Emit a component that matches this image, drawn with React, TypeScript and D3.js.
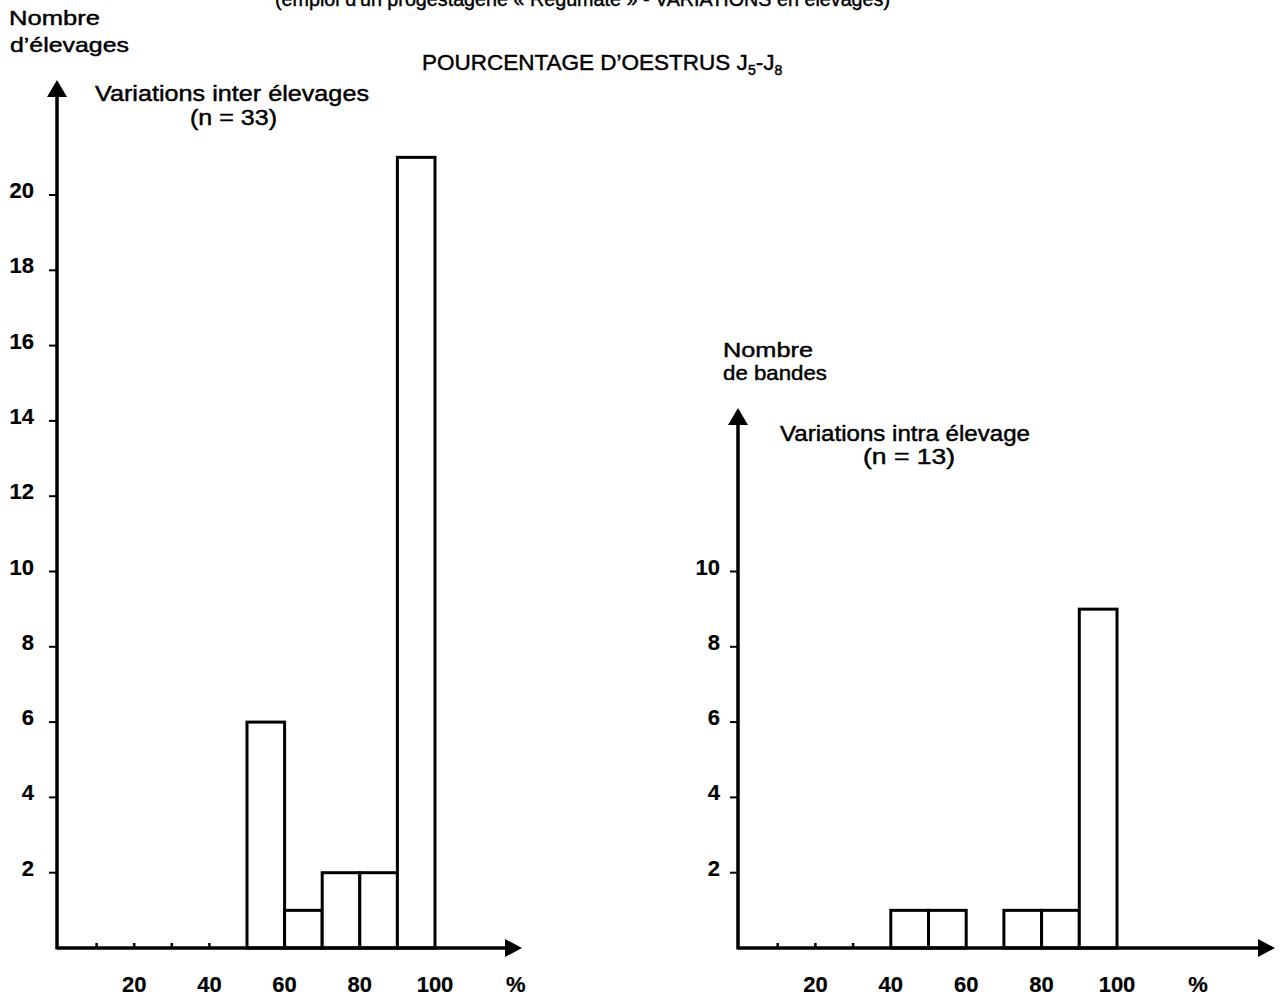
import React, { ReactElement, useEffect, useRef } from "react";
import * as d3 from "d3";

// histogram bins (lower bound, %) and counts
const interBins = [50, 60, 70, 80, 90];
const interCounts = [6, 1, 2, 2, 21];
const intraBins = [40, 50, 70, 80, 90];
const intraCounts = [1, 1, 1, 1, 9];

const xTickLabels = [20, 40, 60, 80, 100];
const interMinorTicks = [10, 20, 30, 40];
const intraMinorTicks = [10, 20, 30];
const interYTicks = [2, 4, 6, 8, 10, 12, 14, 16, 18, 20];
const intraYTicks = [2, 4, 6, 8, 10];

const FONT = "'Liberation Sans', Arial, Helvetica, sans-serif";

interface Panel {
  bins: number[];
  counts: number[];
  yTicks: number[];
  minorTicks: number[];
  x0: number;
  x100: number;
  xTip: number;
  yTip: number;
  labelRight: number;
}

function App(): ReactElement {
  const ref = useRef<SVGSVGElement>(null);

  useEffect(() => {
    const svg = d3.select(ref.current);
    svg.selectAll("*").remove();

    const y = d3.scaleLinear().domain([0, 20]).range([948, 195]);
    const base = y(0);

    const txt = (
      x: number,
      yy: number,
      s: string,
      size: number,
      len?: number,
      anchor = "start",
      weight = "normal"
    ) => {
      const t = svg
        .append("text")
        .attr("x", x)
        .attr("y", yy)
        .attr("font-family", FONT)
        .attr("font-size", size)
        .attr("font-weight", weight)
        .attr("text-anchor", anchor)
        .attr("fill", "#000")
        .attr("stroke", "#000")
        .attr("stroke-width", weight === "bold" ? 0.2 : 0.45)
        .text(s);
      if (len) t.attr("textLength", len).attr("lengthAdjust", "spacingAndGlyphs");
      return t;
    };

    const drawPanel = (p: Panel) => {
      const x = d3.scaleLinear().domain([0, 100]).range([p.x0, p.x100]);
      const w = x(10) - x(0);
      const axisX = p.x0 - 2;
      const g = svg.append("g");

      // bars
      g.selectAll(".bar")
        .data(p.bins.map((b, i) => ({ b, c: p.counts[i] })))
        .enter()
        .append("rect")
        .attr("x", (d) => x(d.b))
        .attr("y", (d) => y(d.c))
        .attr("width", w)
        .attr("height", (d) => base - y(d.c))
        .attr("fill", "#fff")
        .attr("stroke", "#000")
        .attr("stroke-width", 3);

      // axes
      g.append("line")
        .attr("x1", axisX).attr("x2", p.xTip - 14)
        .attr("y1", base).attr("y2", base)
        .attr("stroke", "#000").attr("stroke-width", 3.5);
      g.append("path")
        .attr("d", `M${p.xTip},${base} L${p.xTip - 17},${base - 9} L${p.xTip - 17},${base + 9} Z`)
        .attr("fill", "#000");
      g.append("line")
        .attr("x1", axisX).attr("x2", axisX)
        .attr("y1", base + 1.5).attr("y2", p.yTip + 14)
        .attr("stroke", "#000").attr("stroke-width", 3.5);
      g.append("path")
        .attr("d", `M${axisX},${p.yTip} L${axisX - 10},${p.yTip + 17} L${axisX + 10},${p.yTip + 17} Z`)
        .attr("fill", "#000");

      // y ticks
      p.yTicks.forEach((v) => {
        g.append("line")
          .attr("x1", axisX - 8).attr("x2", axisX)
          .attr("y1", y(v)).attr("y2", y(v))
          .attr("stroke", "#000").attr("stroke-width", 2);
        txt(p.labelRight, y(v) + 3, String(v), 22, undefined, "end", "bold");
      });

      // small x ticks
      p.minorTicks.forEach((v) => {
        g.append("line")
          .attr("x1", x(v)).attr("x2", x(v))
          .attr("y1", base).attr("y2", base - 5)
          .attr("stroke", "#000").attr("stroke-width", 2.5);
      });

      xTickLabels.forEach((v) => {
        txt(x(v), 992, String(v), 22, undefined, "middle", "bold");
      });
      txt(x(121.5), 992, "%", 22, undefined, "middle", "bold");
    };

    drawPanel({
      bins: interBins,
      counts: interCounts,
      yTicks: interYTicks,
      minorTicks: interMinorTicks,
      x0: 59,
      x100: 435,
      xTip: 522,
      yTip: 80,
      labelRight: 34,
    });
    drawPanel({
      bins: intraBins,
      counts: intraCounts,
      yTicks: intraYTicks,
      minorTicks: intraMinorTicks,
      x0: 740,
      x100: 1117,
      xTip: 1275,
      yTip: 408,
      labelRight: 720,
    });

    // texts
    txt(275, 6, "(emploi d'un progestagène « Regumate » - VARIATIONS en élevages)", 20, 615);
    txt(9, 25, "Nombre", 21, 91);
    txt(10, 52, "d’élevages", 21, 119);

    const title = txt(422, 70, "POURCENTAGE D’OESTRUS J", 22.5);
    title.append("tspan").attr("font-size", 14).attr("dy", 5).text("5");
    title.append("tspan").attr("dy", -5).text("-J");
    title.append("tspan").attr("font-size", 14).attr("dy", 5).text("8");

    txt(95, 101, "Variations inter élevages", 22, 274);
    txt(190, 125, "(n = 33)", 22, 87);

    txt(723, 357, "Nombre", 21, 90);
    txt(723, 380, "de bandes", 21, 104);
    txt(780, 441, "Variations intra élevage", 22, 250);
    txt(863, 464, "(n = 13)", 22, 92);
  }, []);

  return (
    <div>
      <svg
        ref={ref}
        width={1286}
        height={1002}
        style={{ position: "absolute", left: 0, top: 0, background: "#fff" }}
      ></svg>
    </div>
  );
}

export default App;
